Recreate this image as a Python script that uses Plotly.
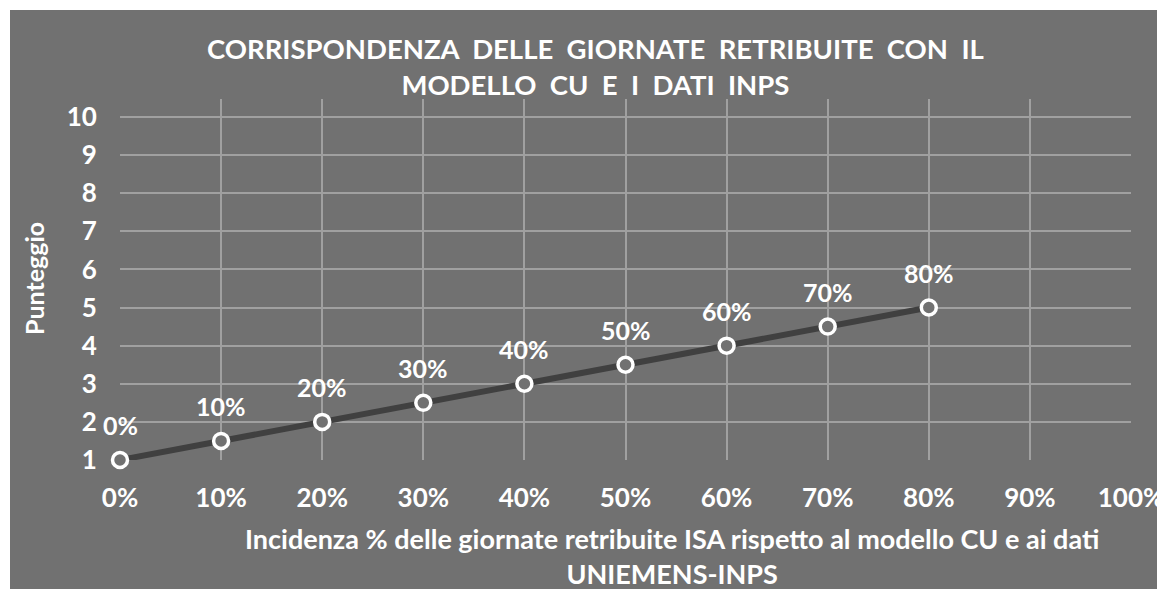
import plotly.graph_objects as go

incidenza = [0.0, 0.1, 0.2, 0.3, 0.4, 0.5, 0.6, 0.7, 0.8]
punteggio = [1, 1.5, 2, 2.5, 3, 3.5, 4, 4.5, 5]
labels = ["0%", "10%", "20%", "30%", "40%", "50%", "60%", "70%", "80%"]
x_ticks = [0, 0.1, 0.2, 0.3, 0.4, 0.5, 0.6, 0.7, 0.8, 0.9, 1.0]
x_ticktext = ["0%", "10%", "20%", "30%", "40%", "50%", "60%", "70%", "80%", "90%", "100%"]
y_ticks = [1, 2, 3, 4, 5, 6, 7, 8, 9, 10]

BG = "#717171"
GRID = "#a0a0a0"
FONT = "Lato"

# page has an 8px body margin; work in page pixels and subtract it
OFF = 8
W, H = 1165 - OFF, 589 - OFF
PL, PR, PT, PB = 120, 1131, 99, 460  # plot box in page pixels
L, T = PL - OFF, PT - OFF
R, B = W - (PR - OFF), H - (PB - OFF)
pw, ph = W - L - R, H - T - B

def px_x(p):
    return (p - OFF - L) / pw

def px_y(p):
    return (H - B - (p - OFF)) / ph

fig = go.Figure()
fig.add_trace(go.Scatter(
    x=incidenza, y=punteggio, mode="lines+markers",
    line=dict(color="#404040", width=6),
    marker=dict(size=15, color=BG, line=dict(color="white", width=3.5)),
    cliponaxis=False,
    hoverinfo="skip", showlegend=False,
))

annotations = []
for xi, yi, t in zip(incidenza, punteggio, labels):
    annotations.append(dict(x=xi, y=yi, text=t, showarrow=False, yshift=35,
                            font=dict(family=FONT, size=25, color="white", weight="bold")))

annotations.append(dict(xref="paper", yref="paper", x=px_x(595), y=px_y(67),
    text="CORRISPONDENZA  DELLE  GIORNATE  RETRIBUITE  CON  IL<br>MODELLO  CU  E  I  DATI  INPS",
    showarrow=False, xanchor="center", yanchor="middle",
    font=dict(family=FONT, size=27.5, color="white", weight="bold")))
annotations.append(dict(xref="paper", yref="paper", x=px_x(672), y=px_y(556),
    text="Incidenza % delle giornate retribuite ISA rispetto al modello CU e ai dati<br>UNIEMENS-INPS",
    showarrow=False, xanchor="center", yanchor="middle",
    font=dict(family=FONT, size=27, color="white", weight="bold")))
annotations.append(dict(xref="paper", yref="paper", x=px_x(34), y=px_y(279),
    text="Punteggio", textangle=-90, showarrow=False, xanchor="center", yanchor="middle",
    font=dict(family=FONT, size=25, color="white", weight="bold")))

fig.update_layout(
    width=W, height=H,
    margin=dict(l=L, r=R, t=T, b=B, autoexpand=False),
    paper_bgcolor="white", plot_bgcolor="rgba(0,0,0,0)",
    annotations=annotations,
    shapes=[dict(type="rect", xref="paper", yref="paper", layer="below",
                 x0=px_x(10), x1=px_x(1175), y0=px_y(600), y1=px_y(10),
                 fillcolor=BG, line=dict(width=0))],
    xaxis=dict(range=[0, 1], tickvals=x_ticks, ticktext=x_ticktext,
               showgrid=True, gridcolor=GRID, gridwidth=1.5, zeroline=False,
               showline=False, ticks="outside", ticklen=15, tickcolor="rgba(0,0,0,0)",
               tickfont=dict(family=FONT, size=26, color="white", weight="bold"),
               fixedrange=True),
    yaxis=dict(range=[1, 10.47], tickvals=y_ticks,
               showgrid=True, gridcolor=GRID, gridwidth=1.5, zeroline=False,
               showline=False, ticks="outside", ticklen=17, tickcolor="rgba(0,0,0,0)",
               tickfont=dict(family=FONT, size=26, color="white", weight="bold"),
               fixedrange=True),
)

fig.write_html("out.html")
